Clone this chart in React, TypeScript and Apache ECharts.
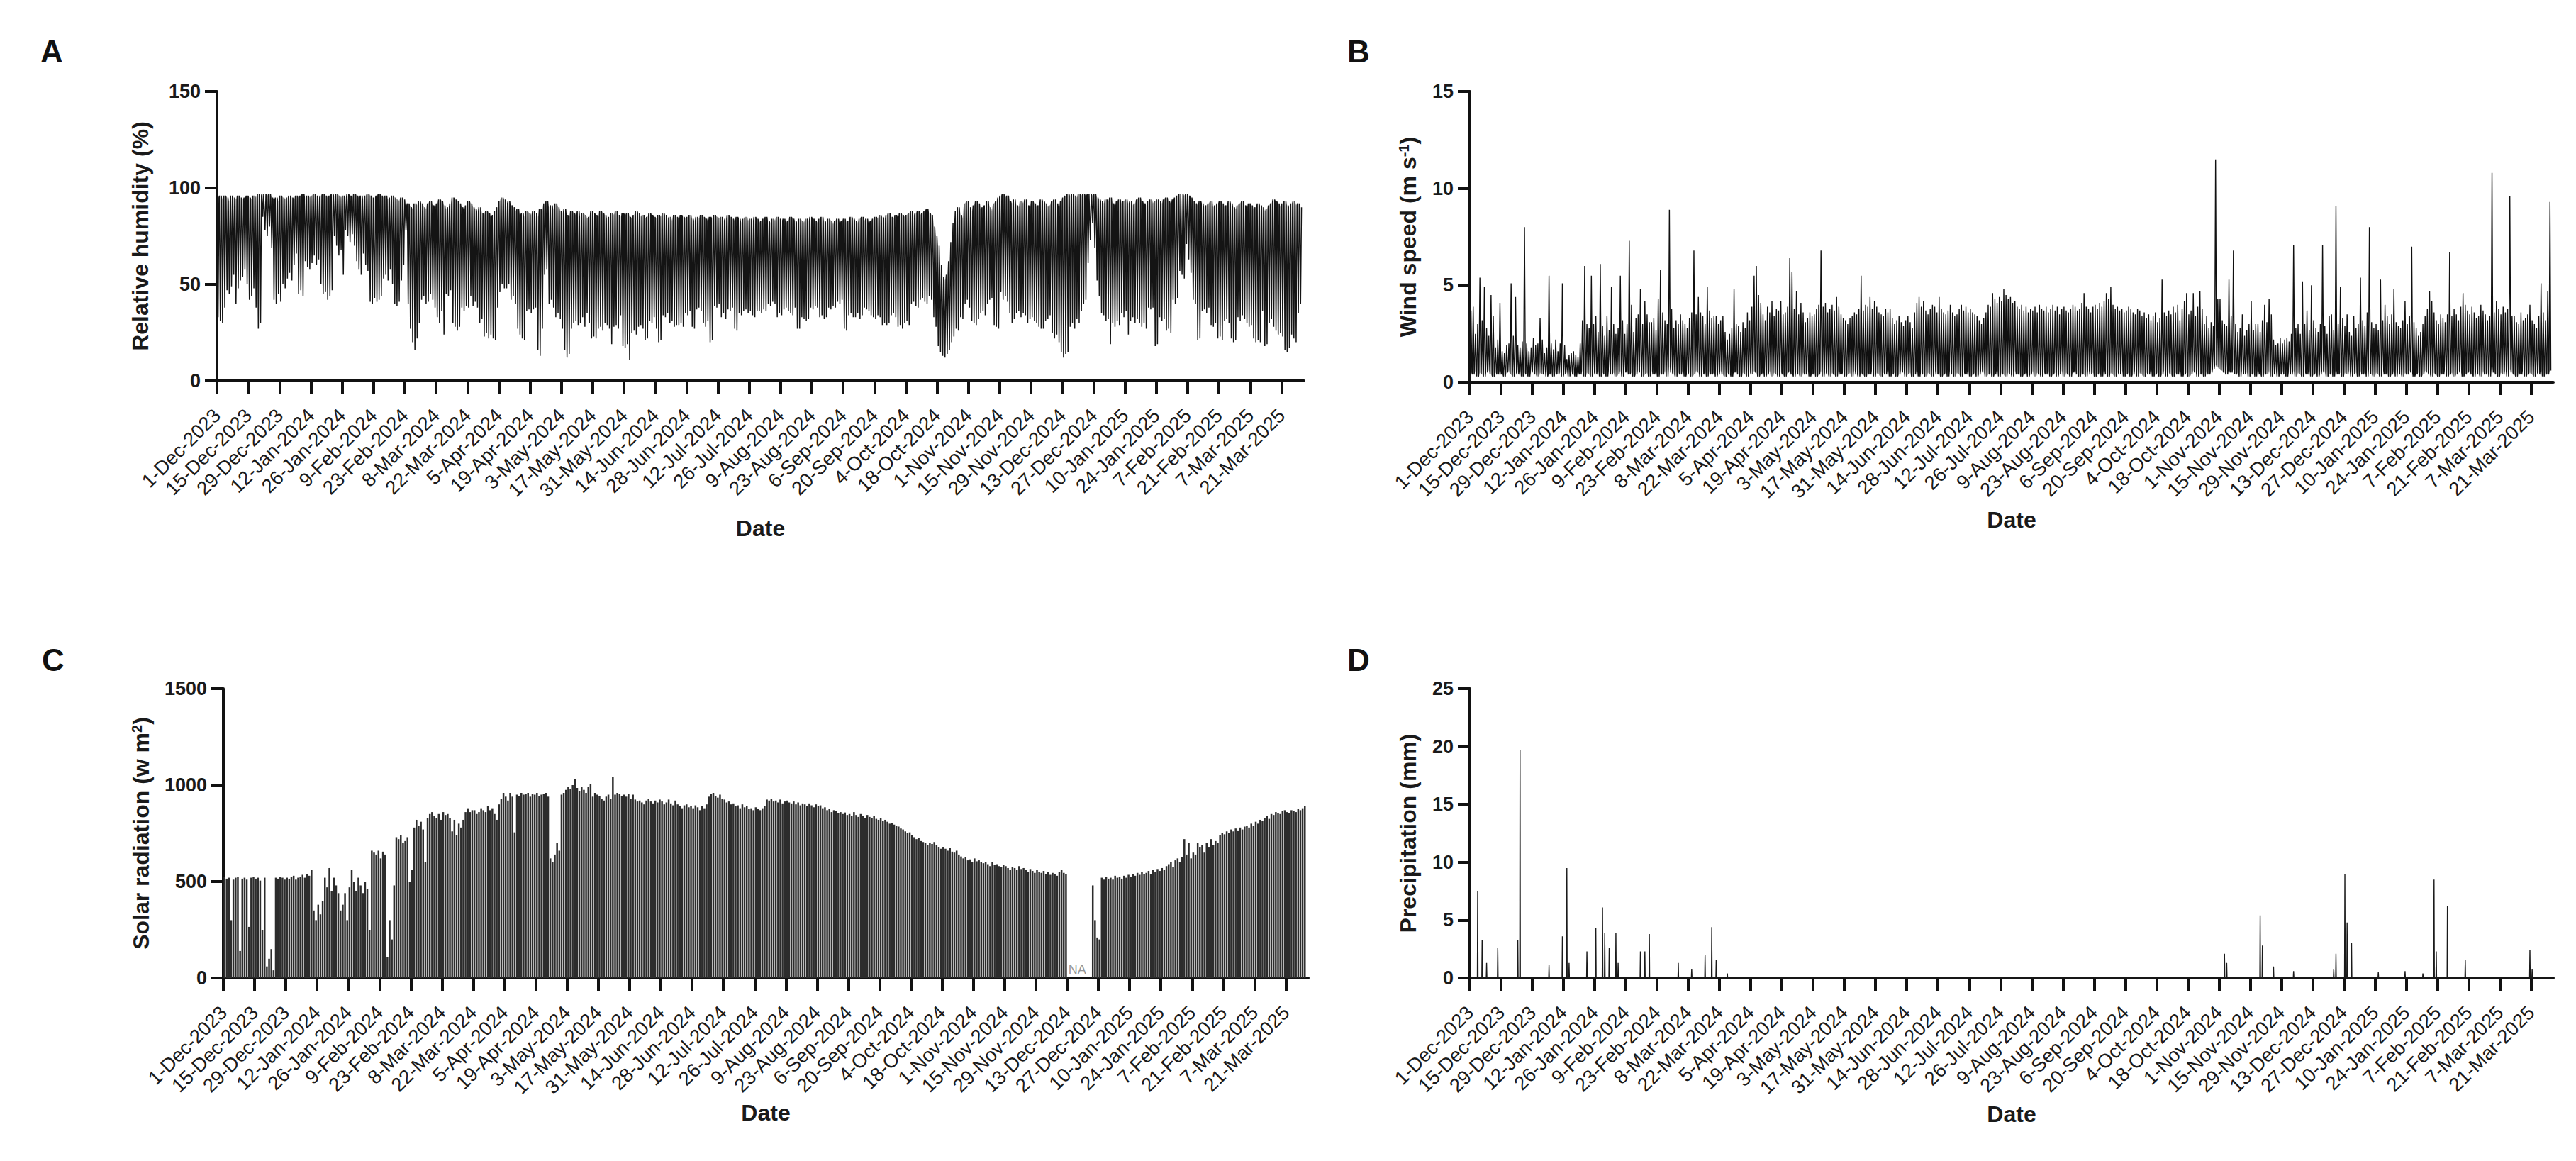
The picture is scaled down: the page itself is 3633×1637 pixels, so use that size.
import React, { useEffect, useRef } from "react";
import * as echarts from "echarts";

const FONT = '"Liberation Sans", Arial, Helvetica, sans-serif';
const AXIS_MAX_DAY = 486; // days after 1-Dec-2023 (end of axis)

const tickLabels = [
  "1-Dec-2023", "15-Dec-2023", "29-Dec-2023", "12-Jan-2024", "26-Jan-2024", "9-Feb-2024",
  "23-Feb-2024", "8-Mar-2024", "22-Mar-2024", "5-Apr-2024", "19-Apr-2024", "3-May-2024",
  "17-May-2024", "31-May-2024", "14-Jun-2024", "28-Jun-2024", "12-Jul-2024", "26-Jul-2024",
  "9-Aug-2024", "23-Aug-2024", "6-Sep-2024", "20-Sep-2024", "4-Oct-2024", "18-Oct-2024",
  "1-Nov-2024", "15-Nov-2024", "29-Nov-2024", "13-Dec-2024", "27-Dec-2024", "10-Jan-2025",
  "24-Jan-2025", "7-Feb-2025", "21-Feb-2025", "7-Mar-2025", "21-Mar-2025",
];
const tickDays = tickLabels.map((_, i) => i * 14);

// Panel A: daily maximum / minimum relative humidity (%), one value per day from 1-Dec-2023
const rhMax = [
  95,96,94,96,95,93,96,95,94,96,95,94,95,96,
  95,94,96,95,97,96,97,97,96,97,95,94,95,93,
  96,95,94,95,96,95,94,96,95,96,97,95,96,95,
  96,97,96,95,96,97,96,95,96,97,96,97,96,95,
  96,95,97,96,95,97,96,95,96,94,96,97,96,95,
  95,96,97,96,95,96,94,95,96,95,94,93,95,94,
  91,92,90,89,92,91,93,92,90,89,92,93,91,90,
  92,94,93,91,89,90,92,95,94,93,92,90,89,91,
  93,92,90,89,88,90,87,86,88,87,85,86,88,90,
  93,95,94,92,93,91,90,88,89,86,87,85,88,87,
  86,88,87,85,89,88,92,93,90,91,89,92,90,88,
  87,89,86,85,88,87,86,88,85,87,86,84,85,88,
  87,86,85,88,87,86,84,85,87,86,88,86,85,87,
  86,87,85,84,86,88,87,85,86,84,85,87,86,85,
  84,86,85,87,86,84,85,83,86,85,84,86,85,84,
  85,86,84,83,85,84,86,85,84,83,85,84,86,85,
  84,85,83,84,86,85,84,83,85,84,82,84,85,83,
  84,83,85,84,82,83,84,85,83,82,84,83,85,84,
  83,84,82,83,85,84,83,82,84,83,82,84,83,85,
  84,83,82,84,85,83,82,84,83,81,83,84,82,83,
  84,82,83,85,84,83,82,84,85,83,84,82,83,84,
  85,84,86,85,84,86,87,85,84,86,85,87,86,85,
  86,87,88,86,87,88,86,87,88,89,87,86,80,75,
  70,60,54,52,55,62,72,82,88,90,86,84,92,93,
  90,88,91,93,92,89,90,91,93,90,88,92,93,95,
  96,97,95,96,93,92,94,91,90,93,92,94,91,90,
  93,92,90,91,94,93,92,90,91,93,94,92,90,93,
  95,96,97,96,97,96,95,97,96,97,96,97,97,96,
  97,95,94,93,92,94,93,95,92,91,93,94,92,93,
  94,92,93,91,92,94,95,93,92,91,93,94,92,93,
  94,93,92,94,95,93,92,94,95,96,97,97,96,97,
  96,95,93,92,91,93,92,90,91,92,93,90,91,92,
  93,92,90,91,93,92,90,89,91,92,93,91,90,92,
  91,89,90,92,91,90,88,89,91,92,94,93,92,90,
  92,93,91,90,92,93,91,92,90,
];
const rhMin = [
  33,31,30,38,47,45,49,55,40,48,52,54,58,50,
  42,44,48,38,27,30,85,78,75,80,69,42,40,45,
  41,50,48,53,56,52,60,66,45,47,44,62,59,58,
  61,65,60,63,50,45,46,42,44,47,75,70,65,68,
  55,78,75,72,76,70,62,58,55,66,60,57,41,40,
  43,41,42,44,53,55,52,58,50,40,39,41,52,60,
  78,40,27,20,16,22,30,42,44,40,41,45,42,38,
  33,30,36,24,45,44,47,30,28,26,28,38,36,39,
  38,44,39,41,38,30,32,23,25,22,24,22,21,38,
  46,50,48,48,50,42,44,40,27,24,22,21,36,37,
  35,37,38,16,13,27,55,58,40,42,38,33,35,32,
  27,16,12,14,27,30,31,29,30,33,28,35,30,22,
  23,22,27,28,26,30,29,27,19,28,29,27,34,18,
  17,19,11,25,26,24,28,29,27,21,22,31,30,33,
  27,20,21,34,33,35,30,31,28,29,29,30,28,35,
  34,36,28,27,37,38,36,30,28,31,20,21,39,38,
  40,33,35,32,37,36,38,27,26,35,34,36,37,35,
  36,34,33,36,36,35,37,36,40,39,41,40,33,35,
  34,37,38,36,35,34,38,27,27,33,32,31,32,38,
  37,39,38,33,34,32,33,38,37,39,38,41,40,42,
  27,26,34,35,33,33,35,32,34,38,37,36,34,33,
  32,34,33,29,30,29,30,34,35,33,28,29,27,30,
  31,29,40,41,39,38,42,43,41,40,44,42,33,28,
  18,15,13,12,14,16,20,23,27,26,33,32,40,42,
  38,31,30,29,32,35,36,34,40,42,43,29,28,27,
  46,42,44,41,35,30,32,35,36,33,35,34,30,32,
  33,31,30,28,27,27,31,32,34,25,22,24,20,15,
  12,14,15,28,30,27,32,30,36,40,42,61,73,82,
  69,52,44,35,34,31,32,19,30,28,31,29,35,33,
  36,24,31,33,30,32,30,28,30,27,38,37,38,18,
  19,33,31,32,26,27,25,42,40,43,57,55,53,71,
  63,56,42,40,21,22,36,37,35,38,29,28,30,22,
  23,21,31,32,30,22,20,21,33,31,34,32,30,28,
  29,22,20,21,20,36,18,19,30,32,28,26,24,25,
  23,16,15,17,24,22,20,35,40,
];

// Panel B: daily maximum / minimum wind speed (m s-1)
const windMax = [
  3.7,3.9,2.5,3.0,5.4,3.2,4.9,2.8,2.4,4.5,3.4,1.8,2.2,4.1,
  1.6,1.5,1.9,2.0,5.1,2.4,4.4,1.9,1.8,2.1,8.0,2.0,1.6,1.8,
  2.3,1.9,2.0,3.3,2.2,1.5,1.8,5.5,2.0,1.7,2.2,1.6,2.0,5.1,
  1.9,1.2,1.4,1.5,1.6,1.4,1.3,2.0,3.2,6.0,3.0,2.8,5.5,3.0,
  3.4,2.6,6.1,2.9,2.4,3.4,2.7,4.9,3.0,2.5,2.8,5.5,3.2,2.5,
  3.0,7.3,4.0,2.6,3.3,3.5,4.8,3.0,4.2,3.5,3.1,3.1,3.3,2.7,
  4.3,5.8,3.6,3.2,3.0,8.9,3.8,2.8,3.2,3.0,3.5,3.2,3.0,2.8,
  3.3,3.6,6.8,3.5,4.4,3.6,3.4,3.0,4.9,3.7,3.3,3.4,3.4,3.0,
  3.2,3.4,2.6,2.2,2.5,2.8,4.8,3.0,2.9,2.6,3.1,2.8,3.6,3.2,
  3.9,5.5,6.0,4.5,4.1,3.5,3.2,3.9,3.6,4.2,3.4,3.8,3.7,4.2,
  3.5,3.6,3.9,6.4,5.7,3.8,4.7,3.5,4.1,3.6,3.1,3.3,3.6,3.4,
  3.5,3.8,4.0,6.8,3.9,4.1,3.6,3.8,4.0,3.7,4.4,3.9,3.5,3.3,
  3.2,3.0,3.3,3.4,3.6,3.5,3.8,5.5,3.7,4.0,3.9,4.4,3.8,4.2,
  3.9,3.6,3.5,3.4,3.8,3.6,3.8,3.3,3.0,3.2,3.4,3.1,2.9,3.2,
  3.4,3.1,2.8,3.6,4.1,4.4,3.9,4.2,3.7,3.5,3.8,4.0,3.9,3.6,
  4.4,3.8,3.6,3.5,3.7,4.0,3.6,3.4,3.5,3.8,4.0,3.7,3.9,3.6,
  3.8,3.6,3.5,3.4,3.2,3.0,3.3,3.6,4.0,3.9,4.6,4.3,4.1,4.4,
  4.2,4.8,4.5,4.3,4.4,4.1,4.2,3.9,3.8,4.0,3.7,3.9,3.6,3.8,
  3.7,3.9,3.6,4.0,3.8,3.7,3.9,3.6,3.8,4.0,3.7,3.9,3.5,3.8,
  3.9,3.7,3.6,3.8,4.0,3.9,3.7,3.8,4.1,4.6,3.9,3.8,3.6,3.9,
  4.0,3.8,4.1,3.9,4.2,4.6,4.3,4.9,4.0,3.8,3.9,3.7,3.8,3.6,
  3.7,3.9,3.8,3.6,3.5,3.8,3.7,3.4,3.6,3.3,3.5,3.2,3.4,3.6,
  3.1,3.3,5.3,3.6,3.4,3.7,3.5,3.9,3.6,4.0,3.2,3.8,4.2,4.6,
  3.5,3.7,4.6,3.4,3.9,4.7,3.8,3.0,3.4,2.8,3.1,2.9,11.5,4.3,
  4.3,3.2,3.0,2.9,5.3,3.4,6.8,3.0,2.6,2.8,3.5,2.4,2.7,3.0,
  4.2,2.7,3.0,3.0,2.6,3.2,4.0,3.1,4.3,3.5,2.2,1.9,2.0,2.3,
  2.0,2.2,2.3,2.1,2.5,7.1,2.8,3.0,2.5,5.2,3.0,3.7,2.7,5.0,
  3.2,2.8,2.6,3.0,7.1,2.9,2.5,3.4,3.5,2.7,9.1,3.0,4.9,3.3,
  2.9,3.5,2.6,2.4,3.4,2.8,3.0,5.4,3.2,2.9,3.6,8.0,3.1,2.8,
  3.0,2.7,5.3,3.2,4.0,3.4,3.0,3.5,4.8,3.1,2.9,2.8,3.2,4.2,
  3.0,3.4,7.0,3.1,2.8,2.4,2.6,3.0,3.4,3.8,4.7,4.2,3.6,3.2,
  3.0,3.5,3.3,3.1,3.5,6.7,3.4,3.8,3.5,3.2,3.9,4.6,4.0,3.7,
  3.5,3.9,3.6,3.3,3.4,4.0,3.7,3.5,3.2,3.4,10.8,3.6,4.2,3.8,
  3.5,3.9,3.6,3.8,9.6,3.4,3.4,3.1,3.0,3.6,3.2,3.3,3.5,4.0,
  3.2,3.0,2.8,3.4,5.1,3.6,3.2,4.7,9.3,
];
const windMin = [
  0.5,0.4,0.6,0.3,0.5,0.4,0.3,0.5,0.6,0.4,0.3,0.5,0.4,0.6,
  0.4,0.3,0.5,0.6,0.4,0.3,0.5,0.4,0.6,0.3,0.5,0.4,0.3,0.5,
  0.6,0.4,0.3,0.5,0.4,0.6,0.3,0.4,0.5,0.3,0.6,0.4,0.5,0.3,
  0.4,0.5,0.3,0.6,0.4,0.3,0.5,0.4,0.6,0.3,0.5,0.4,0.3,0.5,
  0.4,0.6,0.3,0.5,0.4,0.3,0.6,0.4,0.5,0.3,0.4,0.6,0.3,0.5,
  0.6,0.4,0.5,0.3,0.4,0.6,0.5,0.3,0.4,0.5,0.3,0.6,0.4,0.5,
  0.3,0.5,0.4,0.6,0.3,0.8,0.5,0.4,0.3,0.5,0.4,0.6,0.3,0.4,
  0.5,0.3,0.4,0.6,0.5,0.3,0.4,0.5,0.3,0.6,0.4,0.5,0.3,0.4,
  0.6,0.4,0.3,0.5,0.4,0.3,0.5,0.6,0.4,0.3,0.5,0.4,0.3,0.5,
  0.4,0.6,0.5,0.3,0.4,0.5,0.3,0.4,0.6,0.3,0.5,0.4,0.3,0.5,
  0.4,0.3,0.5,0.6,0.4,0.3,0.5,0.4,0.3,0.5,0.4,0.6,0.3,0.4,
  0.5,0.3,0.4,0.6,0.3,0.5,0.4,0.3,0.5,0.4,0.3,0.6,0.4,0.5,
  0.3,0.4,0.5,0.3,0.6,0.4,0.3,0.5,0.4,0.3,0.5,0.4,0.6,0.3,
  0.5,0.4,0.3,0.5,0.4,0.6,0.3,0.4,0.5,0.3,0.4,0.6,0.5,0.3,
  0.4,0.5,0.3,0.4,0.6,0.3,0.5,0.4,0.3,0.5,0.4,0.3,0.6,0.4,
  0.5,0.3,0.4,0.5,0.3,0.6,0.4,0.3,0.5,0.4,0.3,0.5,0.4,0.6,
  0.3,0.4,0.5,0.3,0.4,0.6,0.5,0.3,0.4,0.5,0.3,0.4,0.6,0.3,
  0.5,0.4,0.3,0.5,0.4,0.3,0.6,0.4,0.5,0.3,0.4,0.5,0.3,0.4,
  0.6,0.3,0.5,0.4,0.3,0.5,0.4,0.6,0.3,0.4,0.5,0.3,0.4,0.6,
  0.3,0.5,0.4,0.3,0.5,0.6,0.4,0.3,0.5,0.4,0.3,0.6,0.4,0.5,
  0.3,0.4,0.5,0.3,0.6,0.4,0.3,0.5,0.4,0.3,0.5,0.4,0.6,0.3,
  0.4,0.5,0.3,0.4,0.6,0.3,0.5,0.4,0.3,0.5,0.4,0.6,0.3,0.4,
  0.5,0.3,0.4,0.6,0.3,0.5,0.4,0.3,0.5,0.4,0.6,0.3,0.4,0.5,
  0.3,0.4,0.6,0.5,0.3,0.4,0.5,0.3,0.6,0.4,0.5,0.7,0.9,0.8,
  0.7,0.6,0.5,0.4,0.6,0.5,0.7,0.4,0.5,0.3,0.6,0.4,0.5,0.3,
  0.4,0.5,0.3,0.6,0.4,0.3,0.5,0.4,0.6,0.3,0.4,0.5,0.3,0.4,
  0.6,0.4,0.3,0.5,0.4,0.6,0.3,0.5,0.4,0.3,0.5,0.4,0.6,0.3,
  0.4,0.5,0.3,0.4,0.6,0.5,0.3,0.4,0.5,0.3,0.6,0.4,0.5,0.3,
  0.5,0.4,0.6,0.3,0.4,0.5,0.3,0.6,0.4,0.5,0.3,0.7,0.4,0.3,
  0.5,0.4,0.3,0.6,0.4,0.5,0.3,0.4,0.6,0.3,0.5,0.4,0.3,0.5,
  0.4,0.6,0.5,0.3,0.4,0.5,0.3,0.4,0.6,0.5,0.4,0.3,0.5,0.4,
  0.3,0.5,0.4,0.6,0.3,0.4,0.5,0.3,0.4,0.6,0.5,0.3,0.4,0.5,
  0.6,0.4,0.3,0.5,0.4,0.3,0.6,0.4,0.5,0.3,0.8,0.5,0.4,0.3,
  0.5,0.4,0.6,0.3,0.7,0.5,0.4,0.3,0.5,0.4,0.6,0.3,0.4,0.5,
  0.4,0.3,0.5,0.4,0.6,0.3,0.5,0.4,0.6,
];

// Panel C: daily peak solar radiation (W m-2); null = no data (NA)
const N = null;
const solarMax = [
  525,515,520,300,510,520,525,140,515,520,510,265,520,525,
  515,520,505,250,520,60,100,150,40,520,515,525,520,510,
  520,515,525,530,510,520,525,535,520,540,530,560,350,300,
  380,330,400,520,470,570,450,520,480,440,350,380,440,300,
  470,560,500,450,520,480,440,500,460,250,660,650,640,660,
  620,655,640,110,300,200,480,730,720,740,700,710,730,500,
  560,780,820,790,810,770,600,830,850,860,840,830,850,820,
  860,845,850,830,760,820,740,800,780,820,860,880,860,870,
  870,850,860,880,870,860,890,870,880,850,820,900,930,960,
  940,920,960,940,755,950,945,960,950,955,960,940,955,950,
  960,945,950,955,960,940,620,600,640,700,660,950,960,975,
  990,980,1000,1032,985,970,990,975,960,990,1005,940,960,950,
  945,930,920,940,950,930,1043,950,960,955,945,950,940,955,
  930,950,925,915,920,910,900,920,930,915,905,920,910,925,
  915,900,910,925,905,895,920,900,890,880,895,900,885,890,
  880,895,885,870,890,880,900,940,955,960,945,935,950,930,
  925,910,915,900,905,890,895,880,900,885,890,875,880,870,
  885,875,870,880,890,925,920,930,915,920,910,925,905,915,
  920,910,905,915,900,910,895,905,900,890,905,895,885,900,
  890,895,880,885,870,875,860,870,865,855,860,850,858,845,
  850,840,860,845,835,850,840,830,845,835,830,840,825,820,
  830,815,820,810,800,805,795,790,785,775,770,760,750,755,
  740,730,720,725,710,705,700,690,700,695,705,690,680,670,
  680,670,660,675,655,650,660,640,630,620,625,610,615,600,
  620,605,610,600,595,600,590,580,600,585,590,580,575,585,
  580,570,560,575,570,560,580,565,570,560,550,565,555,545,
  560,550,545,555,540,550,535,545,540,530,550,560,545,540,
  N,N,N,N,N,N,N,N,N,N,N,480,300,210,
  200,520,510,525,515,520,510,530,520,525,515,530,520,535,
  525,540,530,545,535,550,540,545,555,540,560,550,565,555,
  570,560,580,590,600,575,610,620,600,625,720,640,700,620,
  650,640,700,680,690,650,700,680,720,690,710,700,740,750,
  745,760,750,770,760,775,765,780,770,785,790,780,800,790,
  810,800,820,815,830,840,825,850,845,860,855,850,865,870,
  860,855,870,865,860,875,870,880,890,
];
const solarNaDay = 382.5;

// Panel D: rain days (days after 1-Dec-2023) and peak precipitation (mm)
const precipDay = [3, 5, 7, 12, 21, 22, 35, 41, 43, 44, 52, 56, 59, 60, 62, 65, 66, 76, 78, 80, 93, 99, 105, 108, 110, 115,
  338, 339, 354, 355, 360, 369, 387, 388, 392, 393, 395, 407, 419, 427, 432, 433, 438, 446, 475, 476];
const precipMm = [7.5, 3.3, 1.3, 2.6, 3.3, 19.7, 1.1, 3.6, 9.5, 1.3, 2.3, 4.3, 6.1, 3.9, 2.6, 3.9, 1.3, 2.3, 2.3, 3.8, 1.3, 0.8, 2.0, 4.4, 1.6, 0.4,
  2.1, 1.3, 5.4, 2.8, 1.0, 0.6, 0.8, 2.1, 9.0, 4.8, 3.0, 0.5, 0.6, 0.4, 8.5, 2.3, 6.2, 1.6, 2.4, 0.8];

// one daily cycle per day: value a at start and end of the day, value b in the middle
function dailyCycle(a: number[], b: number[]) {
  const out: any[] = [];
  for (let d = 0; d < a.length; d++) {
    out.push([d + 0.1, a[d]], [d + 0.5, b[d]], [d + 0.9, a[d]]);
  }
  return out;
}
function spikes(vals: number[]) {
  const out: any[] = [];
  for (let d = 0; d < vals.length; d++) {
    if (vals[d] > 0) out.push([d + 0.35, 0], [d + 0.5, vals[d]], [d + 0.65, 0]);
    else out.push([d + 0.5, 0]);
  }
  return out;
}

const GRIDS = [
  { left: 306, top: 129, width: 1533, height: 408 },
  { left: 2073, top: 129, width: 1528, height: 410 },
  { left: 315, top: 971, width: 1530, height: 408 },
  { left: 2073, top: 971, width: 1528, height: 408 },
];

function xAxis(i: number, nameGap: number) {
  return {
    gridIndex: i,
    type: "value",
    min: 0,
    max: AXIS_MAX_DAY,
    axisLine: { show: true, onZero: false, lineStyle: { color: "#111", width: 4 } },
    axisTick: { show: true, customValues: tickDays, length: 18, lineStyle: { color: "#111", width: 4 } },
    axisLabel: {
      show: true,
      customValues: tickDays,
      rotate: 45,
      margin: 44,
      fontSize: 27.5,
      fontFamily: FONT,
      color: "#1a1a1a",
      formatter: (v: number) => tickLabels[Math.round(v / 14)] ?? "",
    },
    splitLine: { show: false },
    name: "Date",
    nameLocation: "middle",
    nameGap,
    nameMoveOverlap: false,
    nameTextStyle: { fontSize: 32, fontWeight: "bold", fontFamily: FONT, color: "#1a1a1a" },
  };
}

function yAxis(i: number, max: number, interval: number, name: string, nameGap: number) {
  return {
    gridIndex: i,
    type: "value",
    min: 0,
    max,
    interval,
    axisLine: { show: true, lineStyle: { color: "#111", width: 4 } },
    axisTick: { show: true, length: 17, lineStyle: { color: "#111", width: 4 } },
    axisLabel: {
      fontSize: 27, fontWeight: "bold", fontFamily: FONT, color: "#1a1a1a", margin: 23,
      formatter: (v: number) => String(v),
    },
    splitLine: { show: false },
    name,
    nameLocation: "middle",
    nameRotate: 90,
    nameGap,
    nameMoveOverlap: false,
    nameTextStyle: {
      fontSize: 32,
      fontWeight: "bold",
      fontFamily: FONT,
      color: "#1a1a1a",
      rich: {
        sup: { fontSize: 20, fontWeight: "bold", fontFamily: FONT, color: "#1a1a1a", verticalAlign: "top", lineHeight: 20 },
      },
    },
  };
}

function letter(text: string, x: number, y: number) {
  return {
    type: "text",
    x,
    y,
    style: { text, fontSize: 44, fontWeight: "bold", fontFamily: FONT, fill: "#111", verticalAlign: "middle", align: "left" },
  };
}

export default function App() {
  const ref = useRef<HTMLDivElement>(null);
  useEffect(() => {
    document.body.style.margin = "0";
    if (!ref.current) return;
    const chart = echarts.init(ref.current, null, { renderer: "svg" });
    const precipDaily: number[] = new Array(rhMax.length).fill(0);
    precipDay.forEach((d, k) => (precipDaily[d] = precipMm[k]));

    chart.setOption({
      animation: false,
      backgroundColor: "#ffffff",
      textStyle: { fontFamily: FONT },
      grid: GRIDS.map((g) => ({ ...g, containLabel: false, outerBoundsMode: "none" })),
      xAxis: [xAxis(0, 192), xAxis(1, 178), xAxis(2, 174), xAxis(3, 176)],
      yAxis: [
        yAxis(0, 150, 50, "Relative humidity (%)", 92),
        yAxis(1, 15, 5, "Wind speed (m s{sup|-1})", 71),
        yAxis(2, 1500, 500, "Solar radiation (w m{sup|2})", 100),
        yAxis(3, 25, 5, "Precipitation (mm)", 71),
      ],
      series: [
        {
          type: "line", xAxisIndex: 0, yAxisIndex: 0, data: dailyCycle(rhMax, rhMin),
          symbol: "none", silent: true, lineStyle: { color: "#141414", width: 1.5 },
        },
        {
          type: "line", xAxisIndex: 1, yAxisIndex: 1, data: dailyCycle(windMin, windMax),
          symbol: "none", silent: true, lineStyle: { color: "#101010", width: 1.4 },
        },
        {
          type: "bar", xAxisIndex: 2, yAxisIndex: 2,
          data: solarMax.map((v, d) => [d + 0.5, v == null ? "-" : v]),
          barWidth: 2.5, silent: true, itemStyle: { color: "#2c2c2c" },
        },
        {
          type: "line", xAxisIndex: 3, yAxisIndex: 3, data: spikes(precipDaily),
          symbol: "none", silent: true, lineStyle: { color: "#1a1a1a", width: 1.4 },
        },
        {
          type: "scatter", xAxisIndex: 2, yAxisIndex: 2, data: [[solarNaDay, 0]],
          symbolSize: 1, itemStyle: { color: "rgba(0,0,0,0)" }, silent: true,
          label: { show: true, formatter: "NA", position: "top", distance: 3, fontSize: 18, fontFamily: FONT, color: "#7a7a7a" },
        },
      ],
      graphic: [letter("A", 57, 72), letter("B", 1900, 72), letter("C", 59, 930), letter("D", 1900, 930)],
    });
    return () => chart.dispose();
  }, []);
  return <div ref={ref} style={{ width: 3633, height: 1637 }} />;
}
